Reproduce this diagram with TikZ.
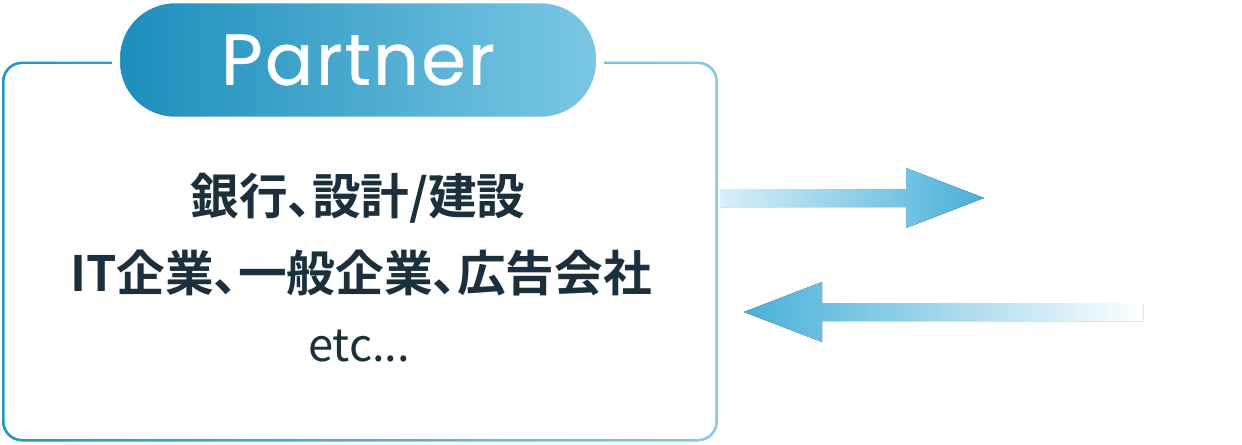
\documentclass[tikz,border=0pt]{standalone}
\usepackage{fontspec}
\newfontfamily\jp{Noto Sans CJK JP}[BoldFont={Noto Sans CJK JP Bold},RawFeature=+palt]
\newfontfamily\pop{Poppins}[LetterSpace=3,FakeBold=0.5]
\definecolor{txt}{HTML}{1B2F3C}
\definecolor{pillL}{HTML}{1B8DBC}
\definecolor{pillR}{HTML}{7BC8E4}
\definecolor{brdL}{HTML}{2396C3}
\definecolor{brdR}{HTML}{80CCE5}
\definecolor{arrDark}{HTML}{47B0D9}
\definecolor{arrLight}{HTML}{D8F0F9}
\begin{document}
\begin{tikzpicture}[x=0.75pt,y=-0.75pt,
  boxouter/.style={rectangle,rounded corners=15pt,left color=brdL,right color=brdR,
    minimum width=537pt,minimum height=285pt,inner sep=0pt},
  boxinner/.style={rectangle,rounded corners=13.2pt,fill=white,
    minimum width=533pt,minimum height=281pt,inner sep=0pt},
  pill/.style={rectangle,rounded corners=44pt,left color=pillL,right color=pillR,
    draw=white,line width=6pt,minimum width=363pt,minimum height=91pt,inner sep=0pt,
    text=white,font=\pop\fontsize{54}{58}\selectfont},
  jpbold/.style={text=txt,font=\jp\bfseries\fontsize{36.5}{42}\selectfont,inner sep=0pt},
  jpreg/.style={text=txt,font=\jp\fontsize{34}{38}\selectfont,inner sep=0pt},
  arrowR/.style={left color=arrLight,right color=arrDark},
  arrowL/.style={left color=arrDark,right color=white},
]
\useasboundingbox (0,0) rectangle (1242,444);
\node[boxouter] (box) at (360,251.5) {};
\node[boxinner] (boxin) at (box.center) {};
\node[pill] (title) at (358,60) {\raisebox{-2pt}{Partner}};
\node[jpbold] (l1) at (358,198) {銀行、設計/建設};
\node[jpbold] (l2) at (361,273) {IT企業、一般企業、広告会社};
\node[jpreg] (l3) at (359,346) {etc...};
% arrows
\coordinate (a1s) at (720,198);
\coordinate (a1e) at (984,198);
\coordinate (a2s) at (1143,312);
\coordinate (a2e) at (744,312);
\fill[arrowR] ([yshift=9*0.75pt]a1s) -- ([xshift=-78*0.75pt,yshift=9*0.75pt]a1e)
  -- ([xshift=-78*0.75pt,yshift=30*0.75pt]a1e) -- (a1e)
  -- ([xshift=-78*0.75pt,yshift=-30*0.75pt]a1e) -- ([xshift=-78*0.75pt,yshift=-9*0.75pt]a1e)
  -- ([yshift=-9*0.75pt]a1s) -- cycle;
\fill[arrowL] ([yshift=9*0.75pt]a2s) -- ([xshift=78*0.75pt,yshift=9*0.75pt]a2e)
  -- ([xshift=78*0.75pt,yshift=30*0.75pt]a2e) -- (a2e)
  -- ([xshift=78*0.75pt,yshift=-30*0.75pt]a2e) -- ([xshift=78*0.75pt,yshift=-9*0.75pt]a2e)
  -- ([yshift=-9*0.75pt]a2s) -- cycle;
\end{tikzpicture}
\end{document}
